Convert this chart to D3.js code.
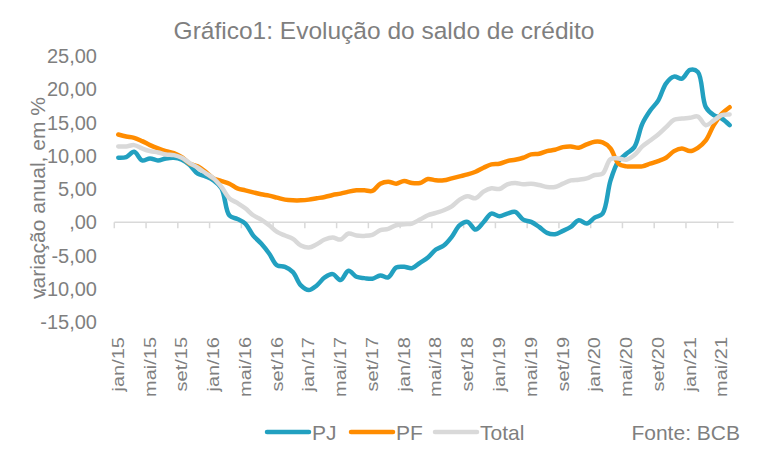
<!DOCTYPE html>
<html>
<head>
<meta charset="utf-8">
<script src="https://cdn.jsdelivr.net/npm/d3@7"></script>
<style>
  html, body { margin: 0; padding: 0; background: #ffffff; }
  svg { display: block; font-family: "Liberation Sans", Arial, sans-serif; }
</style>
</head>
<body>
<svg id="chart" width="768" height="456"></svg>
<script>
// ---- Data ----
const months = ["jan","fev","mar","abr","mai","jun","jul","ago","set","out","nov","dez"];
const categories = [];
for (let y = 15; y <= 21; y++) {
  for (let m = 0; m < 12; m++) {
    if (y === 21 && m > 5) break;
    categories.push(months[m] + "/" + y);
  }
}
const tickLabels = ["jan/15","mai/15","set/15","jan/16","mai/16","set/16","jan/17","mai/17","set/17","jan/18","mai/18","set/18","jan/19","mai/19","set/19","jan/20","mai/20","set/20","jan/21","mai/21"];

const pjValues = [
  9.7, 9.8, 10.6, 9.3, 9.6, 9.3, 9.6, 9.7, 9.4, 8.6, 7.3, 6.9,
  6.3, 5.1, 1.0, 0.5, -0.2, -2.0, -3.2, -4.7, -6.5, -6.7, -7.5, -9.5,
  -10.2, -9.5, -8.3, -7.8, -8.7, -7.3, -8.2, -8.4, -8.5, -8.0, -8.3, -6.8,
  -6.7, -6.9, -6.1, -5.3, -4.1, -3.5, -2.2, -0.45, 0.05, -1.1, 0.0, 1.3,
  0.9, 1.3, 1.55, 0.4, 0.05, -0.7, -1.6, -1.8, -1.3, -0.7, 0.3, -0.2,
  0.7, 1.3, 6.3, 9.2, 10.3, 11.3, 14.8, 16.8, 18.3, 20.9, 21.9, 21.6,
  22.9, 22.6, 17.3, 16.1, 15.6, 14.6
];
const pfValues = [
  13.2, 12.9, 12.7, 12.2, 11.6, 11.1, 10.7, 10.4, 9.8, 8.8, 8.4, 7.6,
  6.6, 6.2, 5.8, 5.1, 4.8, 4.5, 4.2, 4.0, 3.7, 3.4, 3.3, 3.3,
  3.4, 3.6, 3.8, 4.1, 4.3, 4.6, 4.8, 4.8, 4.7, 5.8, 6.1, 5.8,
  6.2, 5.9, 5.9, 6.5, 6.3, 6.3, 6.6, 6.9, 7.2, 7.6, 8.2, 8.7,
  8.8, 9.2, 9.4, 9.7, 10.2, 10.3, 10.7, 10.9, 11.3, 11.4, 11.2, 11.7,
  12.1, 12.0, 11.1, 8.8, 8.4, 8.4, 8.4, 8.8, 9.2, 9.7, 10.7, 11.1,
  10.7, 11.2, 12.3, 14.6, 16.3, 17.3
];
const totalValues = [
  11.4, 11.4, 11.6, 11.1, 10.7, 10.5, 10.2, 10.1, 9.7, 8.9, 8.2, 7.4,
  6.6, 5.3, 3.6, 2.9, 2.1, 1.05, 0.4, -0.45, -1.45, -2.0, -2.5, -3.5,
  -3.8, -3.3, -2.6, -2.3, -2.6, -1.7, -2.0, -2.05, -1.9, -1.2, -1.0, -0.45,
  -0.3, -0.2, 0.4, 1.05, 1.4, 1.8, 2.4, 3.4, 3.9, 3.6, 4.6, 5.1,
  5.0, 5.7, 5.9, 5.7, 5.8, 5.6, 5.3, 5.3, 5.8, 6.3, 6.4, 6.6,
  7.1, 7.3, 9.5, 9.6, 9.4, 10.1, 11.4, 12.3, 13.2, 14.3, 15.4, 15.6,
  15.7, 15.9, 14.6, 15.3, 16.1, 16.2
];
const yTicks = [25, 20, 15, 10, 5, 0, -5, -10, -15];
const yTickLabels = ["25,00", "20,00", "15,00", "10,00", "5,00", ",00", "-5,00", "-10,00", "-15,00"];
const seriesNames = ["PJ", "PF", "Total"];
const seriesColors = ["#22a0c0", "#ff8c00", "#d9d9d9"];

// ---- Drawing ----
const svg = d3.select("#chart");
const textColor = "#7f7f7f";

const x = d3.scaleBand().domain(d3.range(categories.length)).range([114.3, 733.6]).paddingInner(0).paddingOuter(0);
const y = d3.scaleLinear().domain([-15, 25]).range([322, 56]);

// Title
svg.append("text")
  .attr("x", 384).attr("y", 39)
  .attr("text-anchor", "middle")
  .attr("fill", textColor)
  .style("font-size", "24.5px")
  .text("Gráfico1: Evolução do saldo de crédito");

// Y axis title
svg.append("text")
  .attr("transform", "translate(45,198) rotate(-90)")
  .attr("text-anchor", "middle")
  .attr("fill", textColor)
  .style("font-size", "21px")
  .text("variação anual, em %");

// Y tick labels
svg.append("g").selectAll("text")
  .data(yTicks)
  .join("text")
  .attr("x", 97)
  .attr("y", d => y(d))
  .attr("dy", "0.36em")
  .attr("text-anchor", "end")
  .attr("fill", textColor)
  .style("font-size", "20px")
  .text((d, i) => yTickLabels[i]);

// X axis line at zero
const axisG = svg.append("g").attr("transform", `translate(0,${y(0)})`);
const xAxis = d3.axisBottom(x)
  .tickValues(d3.range(0, categories.length, 4))
  .tickSize(0)
  .tickFormat("");
axisG.call(xAxis);
axisG.select(".domain").attr("stroke", "#d9d9d9").attr("stroke-width", 1.5)
  .attr("d", `M${x.range()[0]},0H${x.range()[1]}`);
axisG.selectAll(".tick").remove();
axisG.selectAll("line.tk")
  .data(d3.range(0, categories.length, 4))
  .join("line")
  .attr("class", "tk")
  .attr("x1", d => x(d)).attr("x2", d => x(d))
  .attr("y1", 0).attr("y2", 6)
  .attr("stroke", "#d9d9d9").attr("stroke-width", 1.5);

// X tick labels (rotated) at bottom
const labelIdx = tickLabels.map(l => categories.indexOf(l));
svg.append("g").selectAll("text")
  .data(labelIdx)
  .join("text")
  .attr("transform", d => `translate(${x(d) + x.bandwidth() / 2},337) rotate(-90) scale(1,0.78)`)
  .attr("dy", "0.36em")
  .attr("text-anchor", "end")
  .attr("fill", textColor)
  .style("font-size", "20px")
  .text((d, i) => tickLabels[i]);

// Lines
const allSeries = [pjValues, pfValues, totalValues];
const line = d3.line()
  .x((d, i) => x(i) + x.bandwidth() / 2)
  .y(d => y(d))
  .curve(d3.curveCatmullRom.alpha(0.5));

allSeries.forEach((vals, k) => {
  svg.append("path")
    .datum(vals)
    .attr("fill", "none")
    .attr("stroke", seriesColors[k])
    .attr("stroke-width", 4.5)
    .attr("stroke-linejoin", "round")
    .attr("stroke-linecap", "round")
    .attr("d", line);
});

// Legend
const legendX = [267, 351, 435];
const legend = svg.append("g");
seriesNames.forEach((name, k) => {
  legend.append("line")
    .attr("x1", legendX[k]).attr("x2", legendX[k] + 42)
    .attr("y1", 432).attr("y2", 432)
    .attr("stroke", seriesColors[k])
    .attr("stroke-width", 4.5)
    .attr("stroke-linecap", "round");
  legend.append("text")
    .attr("x", legendX[k] + 45).attr("y", 440)
    .attr("fill", textColor)
    .style("font-size", "21px")
    .text(name);
});
svg.append("text")
  .attr("x", 740).attr("y", 440)
  .attr("text-anchor", "end")
  .attr("fill", textColor)
  .style("font-size", "21px")
  .text("Fonte: BCB");
</script>
</body>
</html>
